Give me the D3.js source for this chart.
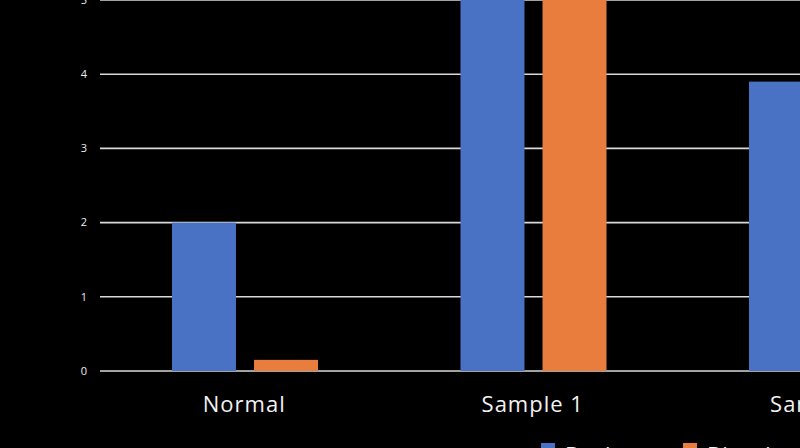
<!DOCTYPE html>
<html>
<head>
<meta charset="utf-8">
<script src="https://cdn.jsdelivr.net/npm/d3@7"></script>
<style>
  html, body { margin: 0; padding: 0; background: #000; overflow: hidden; }
  svg { display: block; font-family: "Open Sans", sans-serif; }
</style>
</head>
<body>
<svg id="chart" width="800" height="448"></svg>
<script>
const categories = ['Normal', 'Sample 1', 'Sample 2'];
const seriesNames = ['Beckman', 'Blood test'];
const beckman = [2, 6, 3.9];
const bloodTest = [0.15, 6, 3.5];
const yTicks = [0, 1, 2, 3, 4, 5];

const colors = ['#4a72c4', '#e87d3e'];

const svg = d3.select('#chart'),
    width = +svg.attr('width'),
    height = +svg.attr('height');

svg.append('rect')
    .attr('width', width)
    .attr('height', height)
    .attr('fill', '#000');

const data = categories.map((c, i) => ({
  category: c,
  values: [beckman[i], bloodTest[i]]
}));

const x0 = d3.scaleBand()
    .domain(categories)
    .range([100, 100 + 288.5 * categories.length]);

const x1 = d3.scaleBand()
    .domain(seriesNames)
    .range([72, 218])
    .paddingInner(0.22);

const y = d3.scaleLinear()
    .domain([0, 5])
    .range([371, 0]);

// gridlines
svg.append('g')
    .selectAll('line')
    .data(yTicks)
    .enter().append('line')
    .attr('x1', 100)
    .attr('x2', width)
    .attr('y1', d => y(d))
    .attr('y2', d => y(d))
    .attr('stroke', '#d9d9d9')
    .attr('stroke-width', 1.6);

// tick labels
svg.append('g')
    .selectAll('text')
    .data(yTicks)
    .enter().append('text')
    .attr('x', 84)
    .attr('y', d => y(d))
    .attr('dy', '0.35em')
    .attr('text-anchor', 'middle')
    .attr('fill', '#ececec')
    .attr('font-size', 11)
    .text(d => d);

// bars
const group = svg.append('g')
    .selectAll('g')
    .data(data)
    .enter().append('g')
    .attr('transform', d => `translate(${x0(d.category)},0)`);

group.selectAll('rect')
    .data(d => d.values.map((v, i) => ({key: seriesNames[i], value: v, i: i})))
    .enter().append('rect')
    .attr('x', d => x1(d.key))
    .attr('width', x1.bandwidth())
    .attr('y', d => y(d.value))
    .attr('height', d => y(0) - y(d.value))
    .attr('fill', d => colors[d.i]);

// category labels
svg.append('g')
    .selectAll('text')
    .data(categories)
    .enter().append('text')
    .attr('x', d => x0(d) + x0.bandwidth() / 2)
    .attr('y', 412)
    .attr('text-anchor', 'middle')
    .attr('fill', '#f2f2f2')
    .attr('font-size', 22)
    .attr('letter-spacing', 1)
    .text(d => d);

// legend (mostly cut off at the bottom)
const legend = svg.append('g')
    .selectAll('g')
    .data(seriesNames)
    .enter().append('g')
    .attr('transform', (d, i) => `translate(${541 + i * 142},443)`);

legend.append('rect')
    .attr('width', 14)
    .attr('height', 14)
    .attr('fill', (d, i) => colors[i]);

legend.append('text')
    .attr('x', 24)
    .attr('y', 20)
    .attr('fill', '#f2f2f2')
    .attr('font-size', 22)
    .attr('letter-spacing', 1)
    .text(d => d);
</script>
</body>
</html>
